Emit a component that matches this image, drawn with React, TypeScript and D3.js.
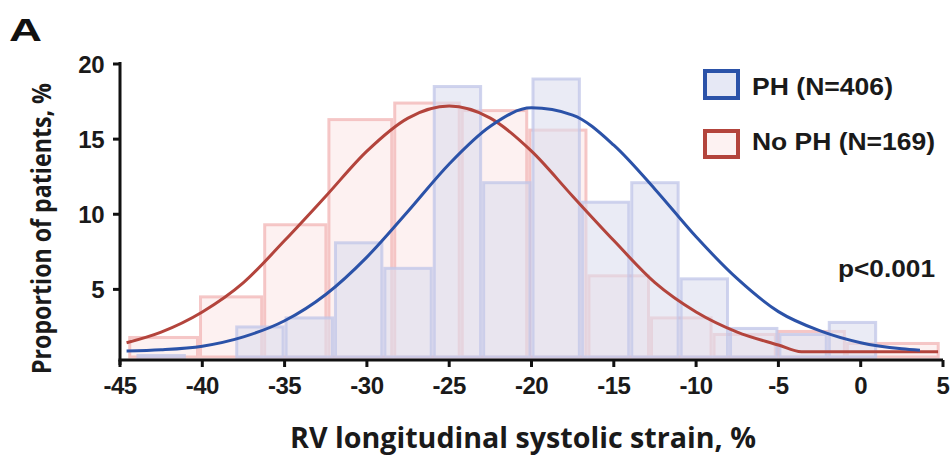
import React from "react";
import * as d3 from "d3";

// ---- data ----
const xTicks = [-45, -40, -35, -30, -25, -20, -15, -10, -5, 0, 5];
const yTicks = [5, 10, 15, 20];

// PH (N=406) histogram: bin edges and proportions (%)
const phEdges = [-44, -41, -38, -35, -32, -29, -26, -23, -20, -17, -14, -11, -8, -5, -2, 1];
const phValues = [0.6, 0, 2.5, 3.1, 8.1, 6.4, 18.5, 12.1, 19.0, 10.8, 12.1, 5.7, 2.4, 2.0, 2.8];

// No PH (N=169) histogram
const noPhEdges = [-44.5, -40.2, -36.3, -32.4, -28.4, -24.3, -20.2, -16.6, -12.8, -9.0, -5.1, -0.9, 4.8];
const noPhValues = [1.8, 4.5, 9.3, 16.3, 17.4, 16.9, 15.6, 5.9, 3.1, 2.0, 2.2, 1.4];

// fitted curves, points
const phCurveX = [-44.6, -42.5, -40, -37.5, -35, -32.5, -30, -27.5, -25, -22.5, -20, -17.5, -15, -12.5, -10, -7.5, -5, -2.5, 0, 2.5, 3.6];
const phCurveY = [0.9, 0.98, 1.22, 1.84, 2.91, 4.66, 7.15, 10.2, 13.35, 15.86, 17.08, 16.6, 14.6, 11.67, 8.5, 5.71, 3.52, 2.25, 1.45, 1.05, 0.95];
const noPhCurveX = [-44.6, -42.5, -40, -37.5, -35, -32.5, -30, -27.5, -25, -22.5, -20, -17.5, -15, -12.5, -10, -7.5, -5, -3.6, 0, 4.7];
const noPhCurveY = [1.45, 2.16, 3.5, 5.45, 8.25, 11.2, 14.2, 16.4, 17.2, 16.4, 14.2, 11.2, 8.25, 5.45, 3.5, 2.16, 1.3, 0.85, 0.85, 0.85];

const legendLabels = ["PH (N=406)", "No PH (N=169)"];
const pText = "p<0.001";
const xTitle = "RV longitudinal systolic strain, %";
const yTitle = "Proportion of patients, %";
const panel = "A";

const BLUE = "#2b52a8";
const RED = "#b3443c";

export default function App() {
  const x = d3.scaleLinear().domain([-45, 5]).range([120, 943]);
  const y = d3.scaleLinear().domain([0.3, 20]).range([360, 64]);
  const yMin = 0.3;

  const line = d3
    .line<[number, number]>()
    .x((d) => x(d[0]))
    .y((d) => y(d[1]))
    .curve(d3.curveMonotoneX);

  const phPts = phCurveX.map((v, i) => [v, phCurveY[i]] as [number, number]);
  const noPhPts = noPhCurveX.map((v, i) => [v, noPhCurveY[i]] as [number, number]);

  const bars = (edges: number[], values: number[]) =>
    values
      .map((v, i) => ({ x0: edges[i], x1: edges[i + 1], v }))
      .filter((b) => b.v > yMin);

  const tickFont = "'Liberation Sans', Arial, sans-serif";

  return (
    <svg
      width={952}
      height={455}
      style={{ position: "absolute", left: 0, top: 0, background: "#fff" }}
    >
      {/* No PH bars */}
      <g>
        {bars(noPhEdges, noPhValues).map((b, i) => (
          <rect
            key={"r" + i}
            x={x(b.x0) + 1.5}
            y={y(b.v)}
            width={x(b.x1) - x(b.x0) - 3}
            height={y(yMin) - y(b.v) - 3}
            fill="#fbe4e4"
            fillOpacity={0.5}
            stroke="#f2b9b9"
            strokeOpacity={0.8}
            strokeWidth={3}
          />
        ))}
      </g>
      {/* PH bars */}
      <g>
        {bars(phEdges, phValues).map((b, i) => (
          <rect
            key={"b" + i}
            x={x(b.x0) + 1.5}
            y={y(b.v)}
            width={x(b.x1) - x(b.x0) - 3}
            height={y(yMin) - y(b.v) - 3}
            fill="#dcdeef"
            fillOpacity={0.6}
            stroke="#c0c6e8"
            strokeOpacity={0.75}
            strokeWidth={3}
          />
        ))}
      </g>

      {/* curves */}
      <path d={line(noPhPts) || ""} fill="none" stroke={RED} strokeWidth={3} />
      <path d={line(phPts) || ""} fill="none" stroke={BLUE} strokeWidth={3} />

      {/* axes */}
      <g stroke="#111" strokeWidth={3} fill="none">
        <line x1={x(-45)} x2={x(-45)} y1={y(20) - 2} y2={y(yMin) + 5} />
        <line x1={x(-45) - 1.5} x2={x(5)} y1={y(yMin)} y2={y(yMin)} />
        {xTicks.map((t) => (
          <line key={"xt" + t} x1={x(t)} x2={x(t)} y1={y(yMin)} y2={y(yMin) + 7} />
        ))}
        {yTicks.map((t) => (
          <line key={"yt" + t} x1={x(-45) - 7} x2={x(-45)} y1={y(t)} y2={y(t)} />
        ))}
      </g>
      <g fontFamily={tickFont} fontWeight="bold" fontSize={24} fill="#1a1a1a">
        {xTicks.map((t) => (
          <text key={"xl" + t} x={x(t)} y={394} textAnchor="middle" letterSpacing={-0.5}>
            {t}
          </text>
        ))}
        {yTicks.map((t) => (
          <text key={"yl" + t} x={x(-45) - 16} y={y(t) + 8.5} textAnchor="end" letterSpacing={-0.5}>
            {t}
          </text>
        ))}
      </g>

      {/* titles */}
      <text
        x={290}
        y={448}
        fontFamily="'Open Sans', sans-serif"
        fontWeight={700}
        fontSize={29}
        fill="#1a1a1a"
        textLength={466}
        lengthAdjust="spacingAndGlyphs"
      >
        {xTitle}
      </text>
      <text
        transform="translate(51,374) rotate(-90)"
        fontFamily="'Open Sans', sans-serif"
        fontWeight={700}
        fontSize={26}
        fill="#1a1a1a"
        textLength={291}
        lengthAdjust="spacingAndGlyphs"
      >
        {yTitle}
      </text>
      <text
        x={9}
        y={41}
        fontFamily={tickFont}
        fontWeight="bold"
        fontSize={32}
        fill="#111"
        textLength={33}
        lengthAdjust="spacingAndGlyphs"
      >
        {panel}
      </text>

      {/* legend */}
      <rect x={705} y={71} width={33} height={27} fill="#e6e8f5" stroke={BLUE} strokeWidth={4} />
      <rect x={705} y={131} width={33} height={26} fill="#fdf2f2" stroke={RED} strokeWidth={4} />
      <g fontFamily={tickFont} fontWeight="bold" fontSize={24} fill="#1a1a1a">
        <text x={752} y={95} textLength={141} lengthAdjust="spacingAndGlyphs">
          {legendLabels[0]}
        </text>
        <text x={752} y={150} textLength={183} lengthAdjust="spacingAndGlyphs">
          {legendLabels[1]}
        </text>
        <text x={838} y={277} textLength={97} lengthAdjust="spacingAndGlyphs">
          {pText}
        </text>
      </g>
    </svg>
  );
}
